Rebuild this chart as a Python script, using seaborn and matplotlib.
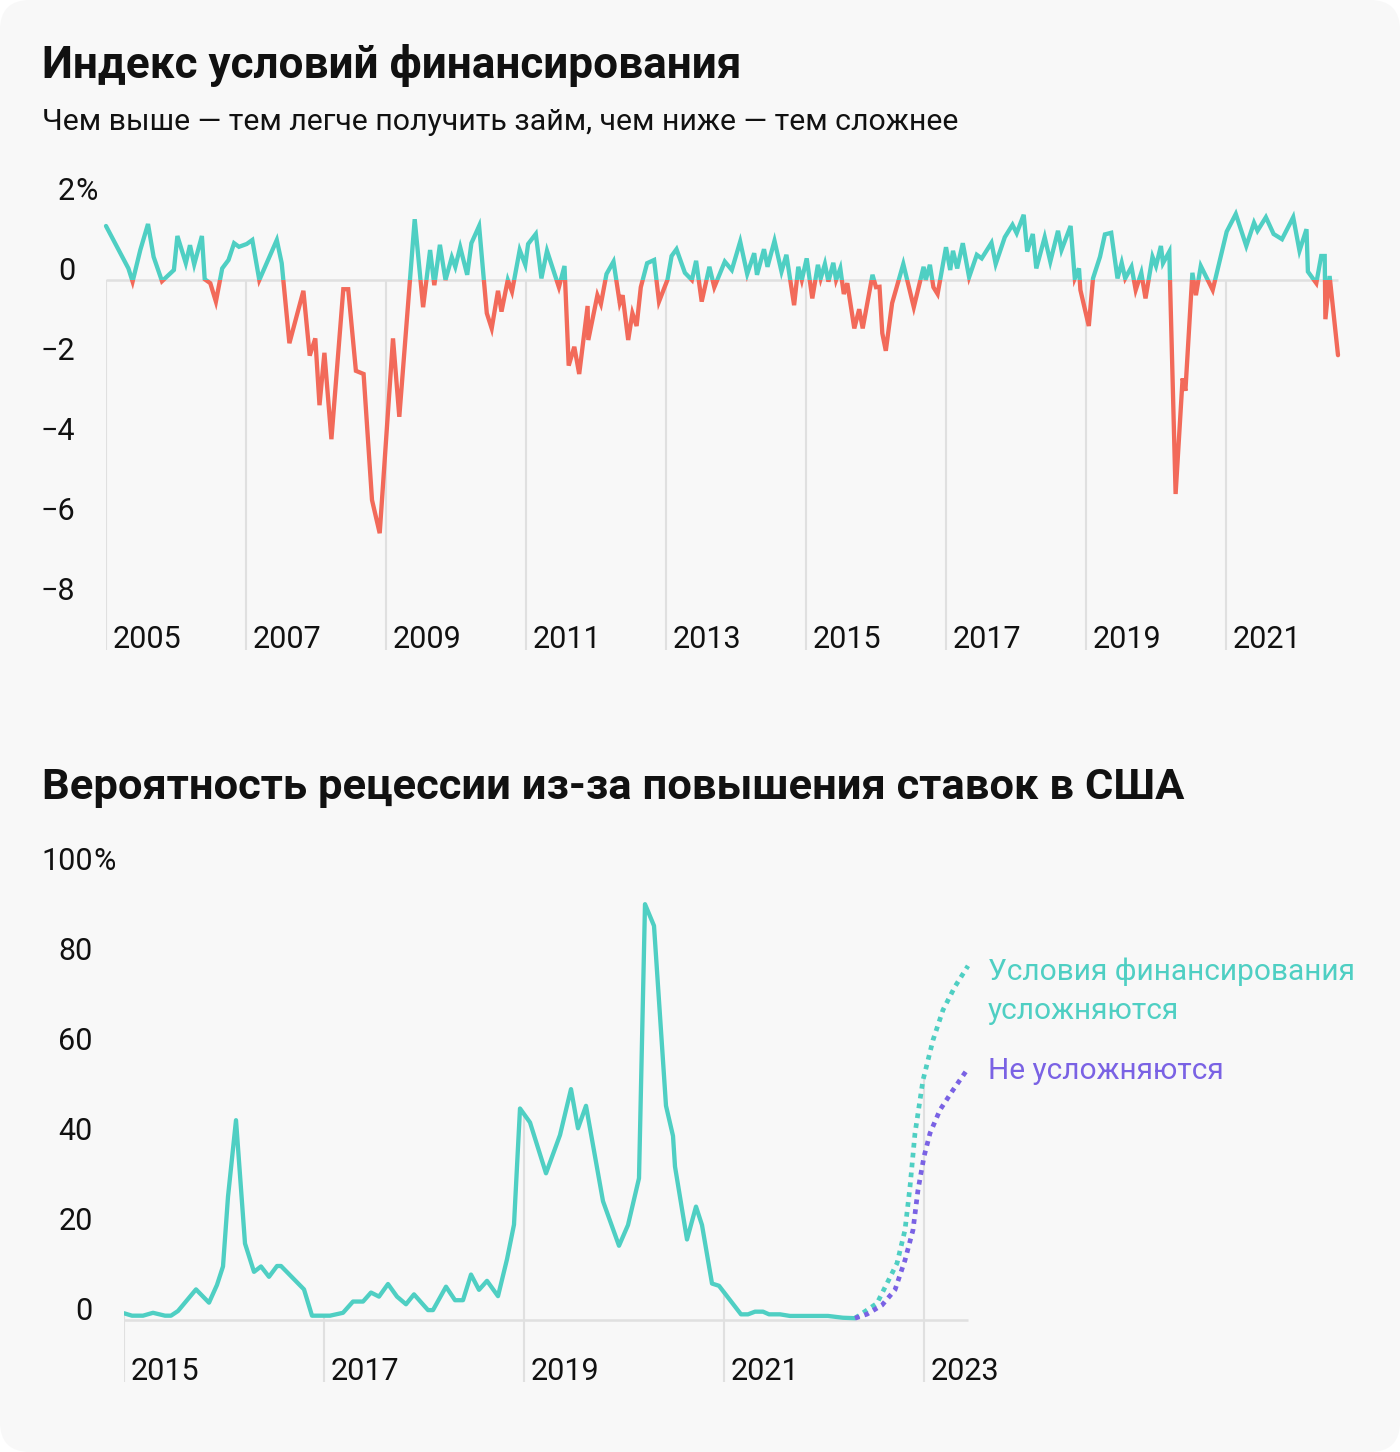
import numpy as np
import seaborn as sns
import matplotlib.pyplot as plt
from matplotlib.patches import FancyBboxPatch, Rectangle

# --- top chart: financial conditions index (vertices) ---
fci_dates = [
    2005.00, 2005.32, 2005.38, 2005.49, 2005.60, 2005.68, 2005.80, 2005.97, 2006.02, 2006.14,
    2006.20, 2006.26, 2006.37, 2006.41, 2006.49, 2006.57, 2006.66, 2006.75, 2006.83, 2006.90,
    2007.01, 2007.09, 2007.19, 2007.44, 2007.51, 2007.62, 2007.82, 2007.91, 2007.99, 2008.05,
    2008.12, 2008.22, 2008.39, 2008.46, 2008.57, 2008.68, 2008.80, 2008.91, 2009.10, 2009.19,
    2009.41, 2009.53, 2009.63, 2009.69, 2009.77, 2009.85, 2009.94, 2009.99, 2010.06, 2010.16,
    2010.22, 2010.33, 2010.44, 2010.51, 2010.60, 2010.65, 2010.74, 2010.80, 2010.91, 2010.99,
    2011.03, 2011.14, 2011.22, 2011.30, 2011.47, 2011.55, 2011.61, 2011.69, 2011.76, 2011.88,
    2011.89, 2012.02, 2012.07, 2012.15, 2012.25, 2012.34, 2012.38, 2012.46, 2012.52, 2012.58,
    2012.64, 2012.73, 2012.83, 2012.90, 2013.02, 2013.08, 2013.15, 2013.27, 2013.37, 2013.43,
    2013.51, 2013.62, 2013.69, 2013.84, 2013.94, 2014.06, 2014.16, 2014.26, 2014.30, 2014.40,
    2014.45, 2014.55, 2014.65, 2014.72, 2014.83, 2014.89, 2014.94, 2015.01, 2015.09, 2015.17,
    2015.21, 2015.27, 2015.32, 2015.39, 2015.43, 2015.49, 2015.54, 2015.59, 2015.69, 2015.76,
    2015.81, 2015.95, 2016.00, 2016.05, 2016.09, 2016.14, 2016.23, 2016.39, 2016.54, 2016.68,
    2016.71, 2016.77, 2016.82, 2016.88, 2017.00, 2017.06, 2017.10, 2017.16, 2017.24, 2017.33,
    2017.44, 2017.51, 2017.65, 2017.71, 2017.84, 2017.95, 2018.01, 2018.11, 2018.16, 2018.24,
    2018.29, 2018.41, 2018.49, 2018.60, 2018.65, 2018.78, 2018.84, 2018.90, 2018.92, 2019.04,
    2019.10, 2019.20, 2019.27, 2019.36, 2019.45, 2019.51, 2019.56, 2019.65, 2019.71, 2019.79,
    2019.85, 2019.95, 2020.00, 2020.07, 2020.10, 2020.19, 2020.20, 2020.28, 2020.38, 2020.42,
    2020.52, 2020.57, 2020.64, 2020.81, 2021.01, 2021.14, 2021.29, 2021.40, 2021.45, 2021.57,
    2021.68, 2021.80, 2021.96, 2022.05, 2022.15, 2022.17, 2022.29, 2022.36, 2022.41, 2022.42,
    2022.48, 2022.60,
]
fci_values = [
    1.35, 0.29, -0.04, 0.75, 1.40, 0.58, -0.03, 0.25, 1.10, 0.42,
    0.87, 0.39, 1.10, 0.02, -0.08, -0.54, 0.29, 0.50, 0.92, 0.83,
    0.90, 1.00, 0.00, 1.00, 0.42, -1.58, -0.27, -1.89, -1.46, -3.13,
    -1.82, -3.98, -0.23, -0.23, -2.27, -2.35, -5.50, -6.33, -1.46, -3.42,
    1.52, -0.68, 0.75, -0.13, 0.88, 0.00, 0.57, 0.33, 0.82, 0.13,
    0.92, 1.35, -0.83, -1.21, -0.27, -0.79, 0.00, -0.29, 0.75, 0.38,
    0.90, 1.15, 0.04, 0.73, -0.18, 0.35, -2.14, -1.67, -2.35, -0.65,
    -1.50, -0.38, -0.60, 0.15, 0.46, -0.58, -0.38, -1.50, -0.83, -1.15,
    -0.18, 0.42, 0.50, -0.54, 0.00, 0.60, 0.77, 0.18, 0.00, 0.48,
    -0.54, 0.33, -0.18, 0.46, 0.25, 0.96, 0.15, 0.67, 0.13, 0.77,
    0.33, 0.98, 0.21, 0.63, -0.63, 0.33, 0.00, 0.54, -0.46, 0.38,
    0.04, 0.40, -0.04, 0.43, 0.00, 0.29, -0.35, -0.08, -1.21, -0.73,
    -1.21, 0.13, -0.18, -0.17, -1.33, -1.77, -0.58, 0.40, -0.68, 0.33,
    0.00, 0.38, -0.18, -0.35, 0.82, 0.25, 0.73, 0.29, 0.92, 0.07,
    0.63, 0.54, 0.93, 0.40, 1.07, 1.38, 1.17, 1.63, 0.71, 1.15,
    0.29, 1.07, 0.46, 1.23, 0.75, 1.35, 0.04, 0.29, -0.25, -1.15,
    0.04, 0.58, 1.14, 1.18, 0.04, 0.43, 0.04, 0.33, -0.25, 0.18,
    -0.46, 0.58, 0.35, 0.85, 0.42, 0.71, 0.00, -5.35, -2.46, -2.77,
    0.18, -0.38, 0.35, -0.25, 1.21, 1.65, 0.85, 1.43, 1.23, 1.57,
    1.15, 1.02, 1.57, 0.73, 1.27, 0.21, -0.08, 0.60, 0.60, -0.98,
    0.10, -1.88,
]
fci_year_ticks = [2005, 2007, 2009, 2011, 2013, 2015, 2017, 2019, 2021]
fci_value_ticks = [2, 0, -2, -4, -6, -8]

# --- bottom chart: recession probability, % ---
rec_dates = [
    2015.00, 2015.08, 2015.19, 2015.29, 2015.41, 2015.47, 2015.54, 2015.72, 2015.85, 2015.93,
    2015.99, 2016.04, 2016.12, 2016.21, 2016.30, 2016.37, 2016.45, 2016.53, 2016.57, 2016.80,
    2016.88, 2017.06, 2017.19, 2017.29, 2017.39, 2017.47, 2017.55, 2017.64, 2017.73, 2017.82,
    2017.90, 2018.04, 2018.09, 2018.22, 2018.31, 2018.39, 2018.47, 2018.55, 2018.63, 2018.74,
    2018.83, 2018.90, 2018.96, 2019.06, 2019.22, 2019.36, 2019.47, 2019.54, 2019.62, 2019.79,
    2019.95, 2020.04, 2020.15, 2020.21, 2020.30, 2020.42, 2020.49, 2020.51, 2020.63, 2020.72,
    2020.78, 2020.88, 2020.95, 2021.17, 2021.24, 2021.31, 2021.39, 2021.45, 2021.56, 2021.66,
    2022.04, 2022.19, 2022.31,
]
rec_values = [
    1.5, 0.96, 0.96, 1.6, 0.96, 0.96, 2.0, 6.8, 3.85, 7.8,
    11.9, 27.4, 44.4, 17.0, 10.7, 11.9, 9.6, 12.0, 12.0, 6.8,
    0.96, 0.96, 1.6, 4.1, 4.1, 6.1, 5.2, 8.0, 5.2, 3.5,
    5.7, 2.2, 2.2, 7.4, 4.4, 4.4, 10.1, 6.7, 8.7, 5.3,
    13.5, 21.2, 47.0, 43.9, 32.6, 41.1, 51.3, 42.6, 47.6, 26.4,
    16.5, 21.1, 31.5, 92.4, 87.6, 47.6, 40.9, 34.1, 17.9, 25.2,
    21.1, 8.1, 7.6, 1.26, 1.26, 1.85, 1.85, 1.26, 1.26, 0.9,
    0.9, 0.5, 0.4,
]
tight_dates = [2022.31, 2022.53, 2022.73, 2022.81, 2022.86, 2022.91, 2022.99, 2023.09, 2023.19, 2023.31, 2023.44]
tight_values = [0.4, 3.7, 12.6, 20.0, 29.6, 41.5, 53.3, 62.2, 68.9, 74.1, 78.7]
loose_dates = [2022.31, 2022.43, 2022.58, 2022.71, 2022.81, 2022.89, 2022.94, 2023.00, 2023.06, 2023.16, 2023.29, 2023.44]
loose_values = [0.4, 1.3, 3.3, 6.7, 13.3, 20.0, 28.9, 36.3, 41.5, 46.7, 51.1, 55.9]
rec_year_ticks = [2015, 2017, 2019, 2021, 2023]
rec_value_ticks = [100, 80, 60, 40, 20, 0]

TEAL = '#4fcfc3'
RED = '#f26a5a'
PURPLE = '#7a62e4'
GRID = '#e0e0e0'
INK = '#111111'

sns.set_theme(style='white')
plt.rcParams['font.family'] = ['Roboto', 'DejaVu Sans']

W, H = 1400, 1452
fig = plt.figure(figsize=(W / 100, H / 100), dpi=100, facecolor='white')
fig.patches.append(FancyBboxPatch((0, 0), W / 100, H / 100, boxstyle='round,pad=0,rounding_size=0.3',
                                  transform=fig.dpi_scale_trans, facecolor='#f8f8f8',
                                  edgecolor='none', zorder=-10))


def px_axes(left, top, right, bottom):
    ax = fig.add_axes([left / W, 1 - bottom / H, (right - left) / W, (bottom - top) / H])
    ax.set_facecolor('none')
    for s in ax.spines.values():
        s.set_visible(False)
    ax.set_xticks([])
    ax.set_yticks([])
    return ax


def value_labels(ax, ticks, left, right, x_right, suffix_tick):
    # numbers right aligned at x_right px, the % sign hangs to the right
    xa = (x_right - left) / (right - left)
    tr = ax.get_yaxis_transform()
    for v in ticks:
        txt = f'{v}'.replace('-', '\u2212')
        ax.text(xa, v, txt, transform=tr, ha='right', va='baseline', fontsize=22, color=INK)
        if v == suffix_tick:
            ax.text(xa, v, '%', transform=tr, ha='left', va='baseline', fontsize=22, color=INK)


def year_labels(ax, ticks, px_per_year):
    tr = ax.get_xaxis_transform()
    for y in ticks:
        ax.text(y + 7 / px_per_year, 0.004, str(y), transform=tr, ha='left', va='baseline',
                fontsize=22, color=INK)


# ---------- top chart ----------
L1, R1, T1, B1 = 106, 1345, 180, 650
ax1 = px_axes(L1, T1, R1, B1)
ax1.set_xlim(2005, 2005 + (R1 - L1) / 70)
ax1.set_ylim((280 - B1) / 40, (280 - T1) / 40)
lo1 = ax1.get_ylim()[0]
ax1.vlines(fci_year_ticks, lo1, 0, color=GRID, lw=1.5, zorder=1)
ax1.hlines(0, fci_dates[0], fci_dates[-1], color=GRID, lw=1.8, zorder=1)

# same line twice: teal part kept above zero, red part below
for col, y0, h in [(TEAL, 0, 10), (RED, -20, 20)]:
    sns.lineplot(x=fci_dates, y=fci_values, ax=ax1, color=col, linewidth=3.1,
                 estimator=None, sort=False, legend=False, zorder=3)
    line = ax1.lines[-1]
    line.set_solid_joinstyle('miter')
    clip = Rectangle((2000, y0), 40, h, transform=ax1.transData)
    line.set_clip_path(clip)
ax1.set_xlabel('')
ax1.set_ylabel('')
ax1.set_xticks([])
ax1.set_yticks([])
value_labels(ax1, fci_value_ticks, L1, R1, 75, 2)
year_labels(ax1, fci_year_ticks, 70)

# ---------- bottom chart ----------
L2, R2, T2, B2 = 124, 975, 850, 1382
ax2 = px_axes(L2, T2, R2, B2)
ax2.set_xlim(2015, 2015 + (R2 - L2) / 100)
ax2.set_ylim((1320 - B2) / 4.5, (1320 - T2) / 4.5)
lo2 = ax2.get_ylim()[0]
# vertical grid lines rise only up to the curve
for y in rec_year_ticks:
    top = np.nanmax([np.interp(y, d, v, left=np.nan, right=np.nan)
                     for d, v in [(rec_dates, rec_values), (tight_dates, tight_values)]] + [0])
    ax2.vlines(y, lo2, top, color=GRID, lw=1.5, zorder=1)
ax2.hlines(0, rec_dates[0], tight_dates[-1], color=GRID, lw=1.8, zorder=1)

sns.lineplot(x=rec_dates, y=rec_values, ax=ax2, color=TEAL, linewidth=3.1,
             estimator=None, sort=False, legend=False, zorder=3)
sns.lineplot(x=tight_dates, y=tight_values, ax=ax2, color=TEAL, linewidth=3.4,
             estimator=None, sort=False, legend=False, zorder=3, linestyle=(0, (1, 1.1)))
sns.lineplot(x=loose_dates, y=loose_values, ax=ax2, color=PURPLE, linewidth=3.4,
             estimator=None, sort=False, legend=False, zorder=3, linestyle=(0, (1, 1.1)))
ax2.set_xlabel('')
ax2.set_ylabel('')
ax2.set_xticks([])
ax2.set_yticks([])
value_labels(ax2, rec_value_ticks, L2, R2, 93, 100)
year_labels(ax2, rec_year_ticks, 100)

# ---------- texts ----------
fig.text(42 / W, 1 - 78 / H, 'Индекс условий финансирования', fontsize=31.8,
         fontweight='bold', color=INK, va='baseline')
fig.text(42 / W, 1 - 130 / H, 'Чем выше — тем легче получить займ, чем ниже — тем сложнее',
         fontsize=21.8, color=INK, va='baseline')
fig.text(42 / W, 1 - 799 / H, 'Вероятность рецессии из-за повышения ставок в США', fontsize=31.3,
         fontweight='bold', color=INK, va='baseline')
fig.text(988 / W, 1 - 980 / H, 'Условия финансирования', fontsize=21.5, color=TEAL, va='baseline')
fig.text(988 / W, 1 - 1019 / H, 'усложняются', fontsize=21.5, color=TEAL, va='baseline')
fig.text(988 / W, 1 - 1079 / H, 'Не усложняются', fontsize=21.5, color=PURPLE, va='baseline')

fig.savefig('out.png', dpi=100, facecolor='white')
